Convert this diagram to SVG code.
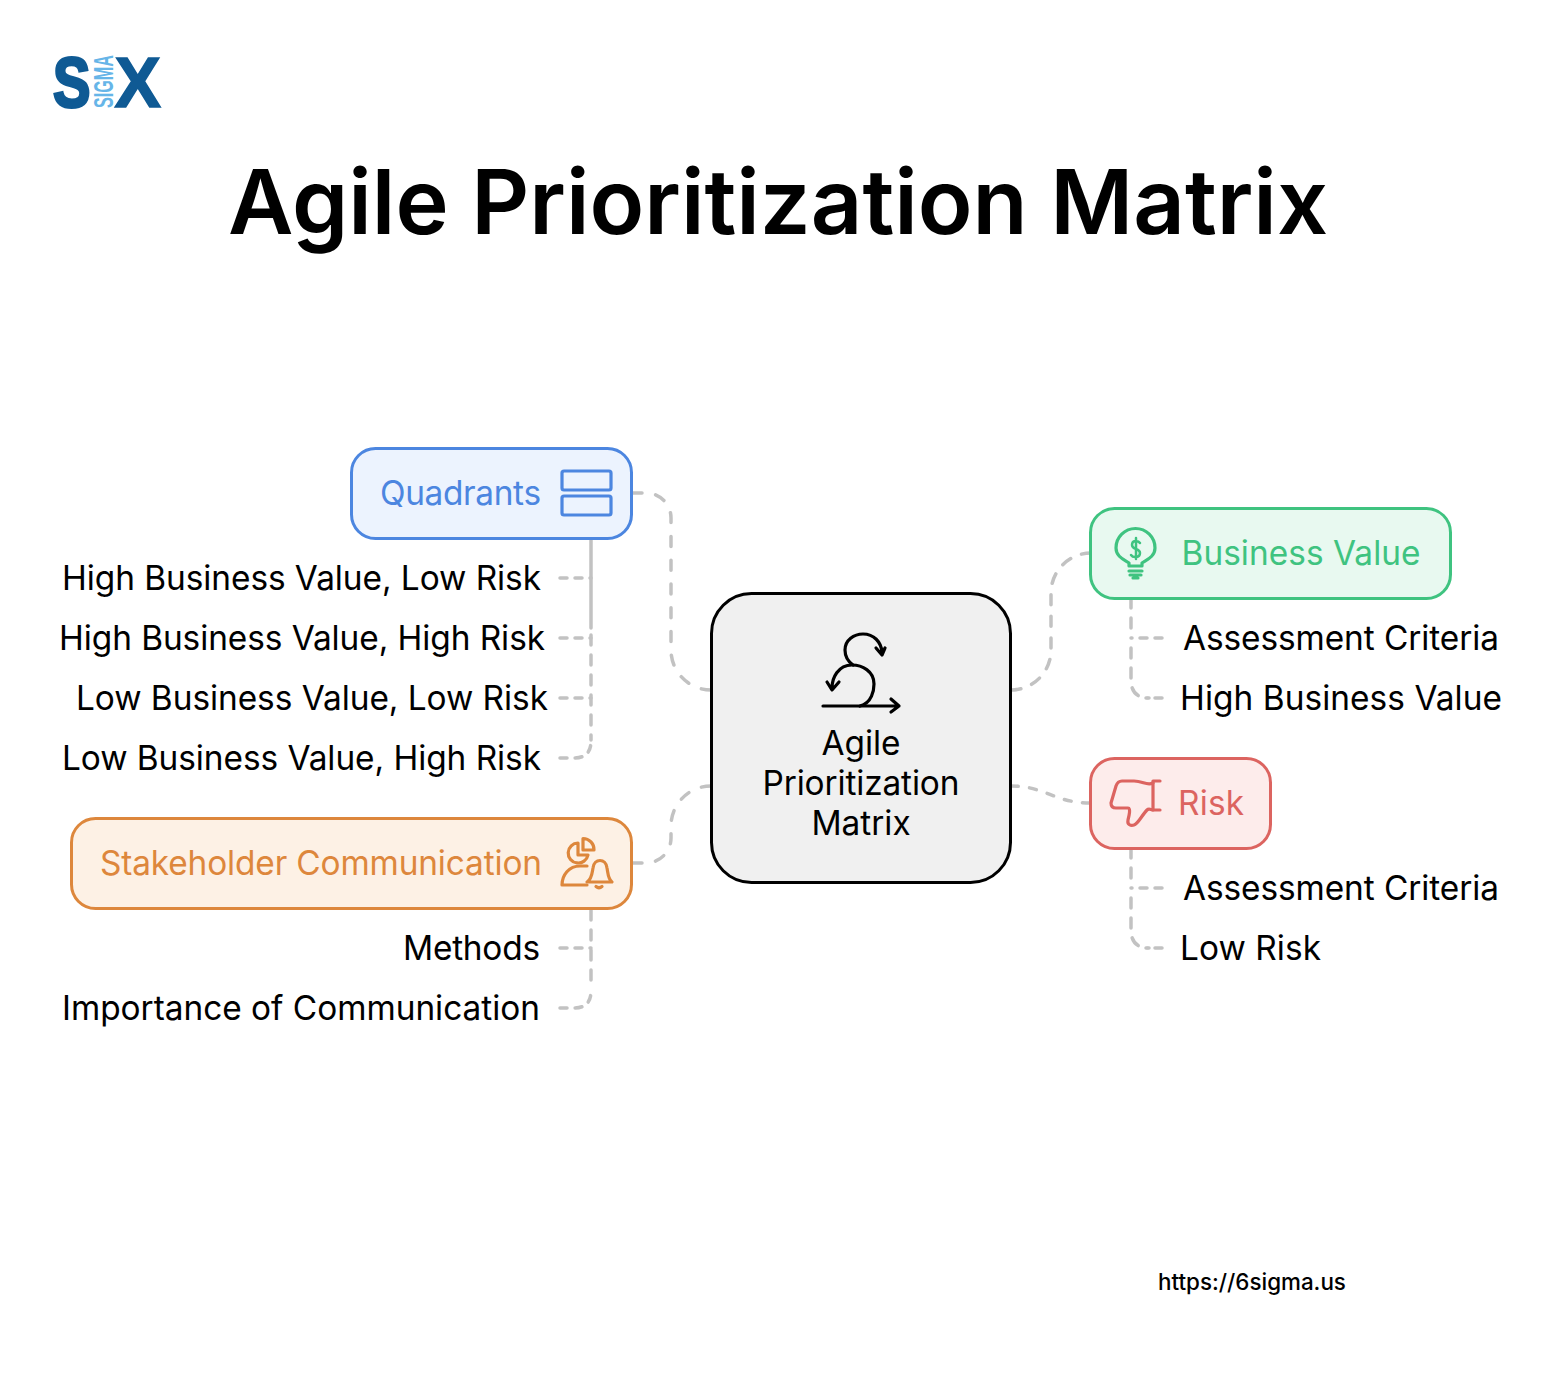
<svg xmlns="http://www.w3.org/2000/svg" width="1564" height="1374" viewBox="0 0 1564 1374">
<style>
text{font-family:Inter,"Liberation Sans",sans-serif;font-size:33.400px;fill:#000}
.conn{fill:none;stroke:#c2c2c2;stroke-width:3.500;stroke-linecap:round}
.risk{stroke-dasharray:7 11.500}
.v{stroke-dasharray:10 10}
.h{stroke-dasharray:7 8}
.box{stroke-width:3}
.ic{fill:none;stroke-width:3.200;stroke-linecap:round;stroke-linejoin:round}
.m{text-anchor:middle}
</style>
<rect width="1564" height="1374" fill="#fff"/>
<g id="logo">
<text transform="translate(53 107) scale(0.79 1)" style="font-family:'Liberation Sans';font-weight:700;font-size:71px;fill:#0f5a94;stroke:#0f5a94;stroke-width:3">S</text>
<text transform="translate(114.500 107) scale(0.98 1)" style="font-family:'Liberation Sans';font-weight:700;font-size:71px;fill:#0f5a94;stroke:#0f5a94;stroke-width:1.500">X</text>
<text transform="translate(112.500 108) rotate(-90)" style="font-family:'Liberation Sans';font-weight:700;font-size:27px;fill:#66b5e8" textLength="53" lengthAdjust="spacingAndGlyphs">SIGMA</text>
</g>
<text id="title" x="778" y="234" class="m" style="font-family:Inter,sans-serif;font-weight:600;font-size:90px">Agile Prioritization Matrix</text>
<g id="connectors">
<path class="conn" style="stroke-dasharray:10 13.800" d="M632 493H646A25 25 0 0 1 671 518V650A40 40 0 0 0 711 690"/>
<path class="conn" style="stroke-dasharray:10 13.600" d="M632 863H646A25 25 0 0 0 671 838V826A40 40 0 0 1 711 786"/>
<path class="conn" style="stroke-dasharray:10 11.600" d="M1011 690A40 40 0 0 0 1051 650V593A40 40 0 0 1 1091 553"/>
<path class="conn risk" d="M1011 786C1045 786 1055 803 1090 803"/>
<path class="conn" d="M591 540V628"/>
<path class="conn h" d="M560 578H591M560 638H591M560 698H591"/>
<path class="conn v" d="M591 634V740" stroke-dashoffset="-1"/>
<path class="conn h" d="M560 758H574Q591 758 591 741"/>
<path class="conn v" d="M591 910V990"/>
<path class="conn h" d="M560 948H591M560 1008H574Q591 1008 591 991"/>
<path class="conn v" d="M1131 598V638"/>
<path class="conn v" d="M1131 648V680Q1131 698 1149 698"/>
<path class="conn h" d="M1162 638H1131M1162 698H1146"/>
<path class="conn v" d="M1131 848V888"/>
<path class="conn v" d="M1131 898V930Q1131 948 1149 948"/>
<path class="conn h" d="M1162 888H1131M1162 948H1146"/>
</g>
<g id="center">
<rect class="box" x="711.500" y="593.500" width="299" height="289" rx="40" fill="#f0f0f0" stroke="#000"/>
<g class="ic" stroke="#000">
<path d="M823 706H899M891 699L899 706L891 712"/>
<path d="M860 706C872 703 874 690 874 684C874 671 862 665 852 665C838 665 832 678 832 688M827 682L832 690L839 682"/>
<path d="M853 665C846 660 845 653 845 650C845 640 854 634 863 634C874 634 881 642 882 652M876 648L882 655L885 648"/>
</g>
<text x="861" y="755" class="m">Agile</text>
<text x="861" y="795" class="m" textLength="197">Prioritization</text>
<text x="861" y="835" class="m">Matrix</text>
</g>
<g id="quadrants">
<rect class="box" x="351.500" y="448.500" width="280" height="90" rx="24" fill="#ecf3fe" stroke="#4c86e0"/>
<text x="380" y="505" textLength="161" style="fill:#4c86e0">Quadrants</text>
<g class="ic" stroke="#4c86e0"><rect x="562" y="471" width="49" height="19" rx="2"/><rect x="562" y="496" width="49" height="19" rx="2"/></g>
</g>
<g id="stakeholder">
<rect class="box" x="71.500" y="818.500" width="560" height="90" rx="24" fill="#fdf1e5" stroke="#dd873c"/>
<text x="100" y="875" textLength="442" style="fill:#dd873c">Stakeholder Communication</text>
<g class="ic" stroke="#dd873c">
<path d="M578 843A10 10 0 1 0 588 855H578Z"/>
<path d="M583 838.500A11 11 0 0 1 594 850H583Z"/>
<path d="M587 885H562C562 875 569 866 580 866H587"/>
<path d="M587 882C592 879 592 873 593 868C594 858 606 858 607 868C608 873 608 879 612 882ZM596 886.500Q599 889 602 886.500"/>
</g>
</g>
<g id="business">
<rect class="box" x="1090.500" y="508.500" width="360" height="90" rx="24" fill="#e8f9f0" stroke="#3fc380"/>
<text x="1181.500" y="565" textLength="239" style="fill:#3fc380">Business Value</text>
<g class="ic" stroke="#3fc380">
<path d="M1129 565V562C1125 559 1116 556 1116 547A19 19 0 0 1 1155 547C1155 556 1146 559 1142 562V565Z" transform="translate(0 1)"/>
<path d="M1129 571H1142M1130 575H1141M1133 578H1138"/>
<path d="M1140 543C1138 540 1132 540 1132 545C1132 550 1140 548 1140 553C1140 558 1133 558 1131 555M1136 538V559" stroke-width="2.500"/>
</g>
</g>
<g id="risk">
<rect class="box" x="1090.500" y="758.500" width="180" height="90" rx="24" fill="#fdeceb" stroke="#dc6460"/>
<text x="1178" y="815" textLength="66" style="fill:#dc6460">Risk</text>
<g class="ic" stroke="#dc6460">
<path d="M1153 783C1147 786 1143 781 1134 781H1122C1119 781 1117 783 1116 786L1111 803C1111 807 1113 808 1116 808H1128C1131 808 1129 816 1128 820C1127 825 1131 826 1134 825C1138 824 1142 815 1147 810C1149 808 1151 810 1153 810"/>
<path d="M1153 781V810M1153 781H1160M1153 810H1160"/>
</g>
</g>
<g id="q1"><text x="62" y="590" textLength="479">High Business Value, Low Risk</text></g>
<g id="q2"><text x="59" y="650" textLength="486">High Business Value, High Risk</text></g>
<g id="q3"><text x="76" y="710" textLength="472">Low Business Value, Low Risk</text></g>
<g id="q4"><text x="62" y="770" textLength="479">Low Business Value, High Risk</text></g>
<g id="s1"><text x="403" y="960" textLength="137">Methods</text></g>
<g id="s2"><text x="62" y="1020" textLength="478">Importance of Communication</text></g>
<g id="b1"><text x="1183" y="650" textLength="316">Assessment Criteria</text></g>
<g id="b2"><text x="1180" y="710" textLength="322">High Business Value</text></g>
<g id="r1"><text x="1183" y="900" textLength="316">Assessment Criteria</text></g>
<g id="r2"><text x="1180" y="960" textLength="141">Low Risk</text></g>
<text id="url" x="1158" y="1290" style="font-family:Inter,sans-serif;font-weight:500;font-size:22.400px">https://6sigma.us</text>
</svg>
